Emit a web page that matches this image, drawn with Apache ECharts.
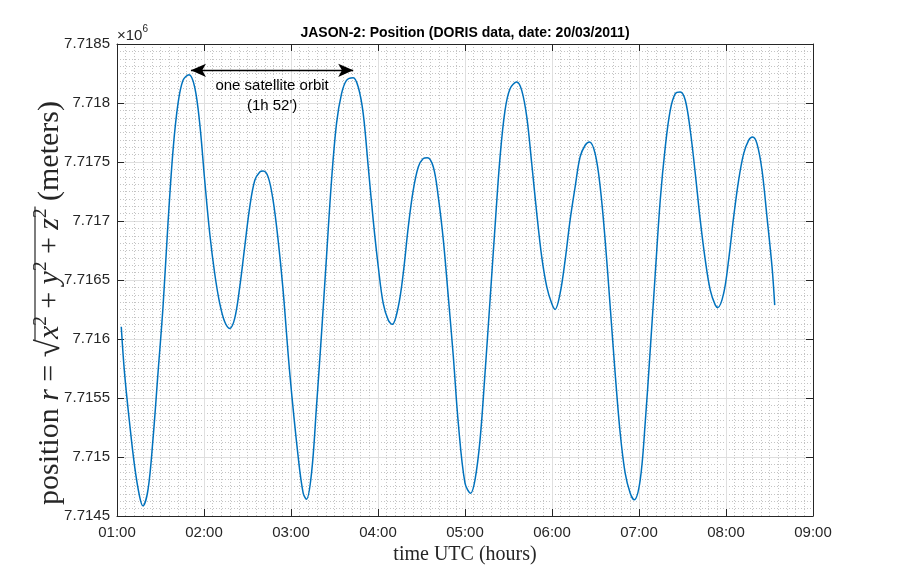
<!DOCTYPE html>
<html>
<head>
<meta charset="utf-8">
<script src="https://cdn.jsdelivr.net/npm/echarts/dist/echarts.min.js"></script>
<style>
html,body{margin:0;padding:0;background:#fff;}
#chart{width:898px;height:580px;}
</style>
</head>
<body>
<div id="chart"></div>
<script>
// ---- data (time in decimal hours UTC, position in meters) ----
const timeHours = [1.049,1.087,1.145,1.203,1.260,1.298,1.356,1.413,1.471,1.529,
1.586,1.644,1.701,1.759,1.828,1.893,1.951,2.008,2.066,2.123,
2.181,2.238,2.296,2.353,2.411,2.468,2.526,2.584,2.641,2.679,
2.737,2.794,2.852,2.909,2.986,3.082,3.140,3.178,3.236,3.293,
3.351,3.408,3.466,3.523,3.581,3.638,3.715,3.773,3.830,3.888,
3.945,4.003,4.060,4.118,4.164,4.233,4.290,4.348,4.405,4.463,
4.520,4.567,4.636,4.693,4.751,4.808,4.866,4.923,5.000,5.065,
5.115,5.173,5.230,5.288,5.345,5.403,5.460,5.518,5.595,5.652,
5.710,5.767,5.825,5.882,5.940,5.997,6.036,6.093,6.151,6.208,
6.266,6.323,6.381,6.431,6.496,6.554,6.611,6.669,6.726,6.784,
6.841,6.899,6.945,7.014,7.071,7.129,7.187,7.244,7.302,7.359,
7.417,7.474,7.532,7.589,7.647,7.704,7.762,7.819,7.877,7.908,
7.973,8.030,8.088,8.145,8.203,8.260,8.306,8.356,8.414,8.471,
8.529,8.560];
const positionMeters = [7716104,7715709,7715286,7714919,7714665,7714586,7714721,7715145,7715709,7716273,
7716979,7717599,7717994,7718192,7718240,7718135,7717825,7717345,7716894,7716555,
7716301,7716146,7716090,7716175,7716442,7716781,7717120,7717345,7717416,7717424,
7717374,7717176,7716838,7716414,7715709,7715004,7714693,7714642,7714863,7715427,
7716048,7716696,7717345,7717825,7718079,7718192,7718215,7718135,7717910,7717458,
7717007,7716612,7716301,7716160,7716124,7716273,7716555,7716950,7717261,7717458,
7717529,7717537,7717458,7717204,7716838,7716358,7715850,7715286,7714778,7714693,
7714806,7715145,7715709,7716330,7716950,7717543,7717938,7718121,7718178,7718107,
7717882,7717487,7717063,7716696,7716442,7716301,7716251,7716386,7716668,7717007,
7717289,7717543,7717642,7717670,7717571,7717289,7716838,7716273,7715709,7715201,
7714863,7714693,7714637,7714806,7715286,7715906,7716555,7717176,7717628,7717938,
7718079,7718093,7718023,7717769,7717402,7717007,7716668,7716414,7716287,7716268,
7716386,7716668,7717035,7717345,7717571,7717684,7717712,7717656,7717430,7717035,
7716612,7716287];
const xTickLabels = ['01:00','02:00','03:00','04:00','05:00','06:00','07:00','08:00','09:00'];
const xRange = [1, 9];
const yRange = [7714500, 7718500];
const yStep = 500;
const orbitArrowTimes = [1.85, 3.715];
const orbitArrowValue = 7718277;
const orbitText = "one satellite orbit\n(1h 52')";
const titleText = 'JASON-2: Position (DORIS data, date: 20/03/2011)';
const xName = 'time UTC (hours)';

// ---- chart ----
const chart = echarts.init(document.getElementById('chart'), null, {renderer:'canvas'});
const AX = '#262626';
const GRID = '#dfdfdf';
const MINOR = '#c4c4c4';
const SANS = '"Liberation Sans", Arial, Helvetica, sans-serif';
const SERIF = '"Liberation Serif", "Times New Roman", serif';

const mctx = document.createElement('canvas').getContext('2d');
function tw(t, font){ mctx.font = font; return mctx.measureText(t).width; }

// y label built from pieces (rotated)
const F = 30;
const fBase = F + 'px ' + SERIF;
const fIt = 'italic ' + F + 'px ' + SERIF;
const fSup = Math.round(F*0.62) + 'px ' + SERIF;
const fSqrt = Math.round(F*1.1) + 'px ' + SERIF;
const supDy = -0.3*F;
const pieces = [
  ['position ', fBase, 0], ['r', fIt, 0], [' = ', fBase, 0], ['\u221A', fSqrt, 0.5],
  ['x', fIt, 0], ['2', fSup, supDy], [' + ', fBase, 0], ['y', fIt, 0], ['2', fSup, supDy],
  [' + ', fBase, 0], ['z', fIt, 0], ['2', fSup, supDy], [' (meters)', fBase, 0]
];
let cum = 0, radStart = 0, radEnd = 0;
const labelChildren = [];
pieces.forEach((p, i) => {
  if (i === 4) radStart = cum;
  labelChildren.push({type:'text', x: cum, y: p[2], style:{text:p[0], font:p[1], fill:AX, align:'left', verticalAlign:'middle', textAlign:'left', textVerticalAlign:'middle'}});
  cum += tw(p[0], p[1]);
  if (i === 11) radEnd = cum;
});
const sqrtTop = -0.5*F;
labelChildren.push({type:'line', shape:{x1: radStart - 1, y1: sqrtTop, x2: radEnd + 2, y2: sqrtTop}, style:{stroke:AX, lineWidth:1.2}});

function boxAxis(pos, isX){
  return {
    type:'value', position:pos, min: isX?xRange[0]:yRange[0], max: isX?xRange[1]:yRange[1],
    interval: isX?1:yStep,
    axisLine:{show:true, onZero:false, lineStyle:{color:AX, width:1}},
    axisTick:{show:true, inside:true, length:7, lineStyle:{color:AX}},
    axisLabel:{show:false},
    splitLine:{show:false}
  };
}

const option = {
  animation:false,
  backgroundColor:'#fff',
  grid:{left:117, right:85, top:44, bottom:64, containLabel:false},
  xAxis:[
    {
      type:'value', position:'bottom', min:xRange[0], max:xRange[1], interval:1,
      axisLine:{show:true, onZero:false, lineStyle:{color:AX, width:1}},
      axisTick:{show:true, inside:true, length:7, lineStyle:{color:AX}},
      axisLabel:{show:true, margin:9, color:AX, fontSize:15, fontFamily:SANS,
        formatter:(v)=> xTickLabels[Math.round(v - xRange[0])] || ''},
      splitLine:{show:true, lineStyle:{color:GRID, width:1}},
      minorTick:{show:false, splitNumber:10},
      minorSplitLine:{show:true, lineStyle:{color:MINOR, width:1, type:[1,2]}},
      name:xName, nameLocation:'middle', nameGap:28,
      nameTextStyle:{fontFamily:SERIF, fontSize:20, color:AX}
    },
    boxAxis('top', true)
  ],
  yAxis:[
    {
      type:'value', position:'left', min:yRange[0], max:yRange[1], interval:yStep,
      axisLine:{show:true, onZero:false, lineStyle:{color:AX, width:1}},
      axisTick:{show:true, inside:true, length:7, lineStyle:{color:AX}},
      axisLabel:{show:true, margin:7, color:AX, fontSize:15, fontFamily:SANS,
        formatter:(v)=> String(parseFloat((v/1e6).toFixed(4)))},
      splitLine:{show:true, lineStyle:{color:GRID, width:1}},
      minorTick:{show:false, splitNumber:8},
      minorSplitLine:{show:true, lineStyle:{color:MINOR, width:1, type:[1,2]}}
    },
    boxAxis('right', false)
  ],
  series:[{
    type:'line', xAxisIndex:0, yAxisIndex:0,
    data: timeHours.map((t,i)=>[t, positionMeters[i]]),
    showSymbol:false, smooth:0.35,
    lineStyle:{color:'#0072BD', width:1.5},
    z:5,
    markLine:{
      silent:true, symbol:['arrow','arrow'], symbolSize:[10,15],
      lineStyle:{color:'#000', width:1.3, type:'solid'},
      label:{show:true, position:'insideMiddleBottom', distance:6, formatter:orbitText,
        color:'#000', fontSize:15, lineHeight:20, fontFamily:SANS, align:'center'},
      data:[[{coord:[orbitArrowTimes[0], orbitArrowValue]}, {coord:[orbitArrowTimes[1], orbitArrowValue]}]]
    }
  }],
  graphic:[
    {type:'text', x:465, y:33, style:{text:titleText, font:'bold 14px ' + SANS, fill:'#000', align:'center', verticalAlign:'middle', textAlign:'center', textVerticalAlign:'middle'}},
    {type:'text', x:117, y:36, style:{text:'\u00D710', font:'15px ' + SANS, fill:AX, align:'left', verticalAlign:'middle', textAlign:'left', textVerticalAlign:'middle'}},
    {type:'text', x:117 + tw('\u00D710', '15px ' + SANS), y:29, style:{text:'6', font:'10px ' + SANS, fill:AX, align:'left', verticalAlign:'middle', textAlign:'left', textVerticalAlign:'middle'}},
    {type:'group', x:50, y:505, rotation:Math.PI/2, children:labelChildren}
  ]
};
chart.setOption(option);
</script>
</body>
</html>
